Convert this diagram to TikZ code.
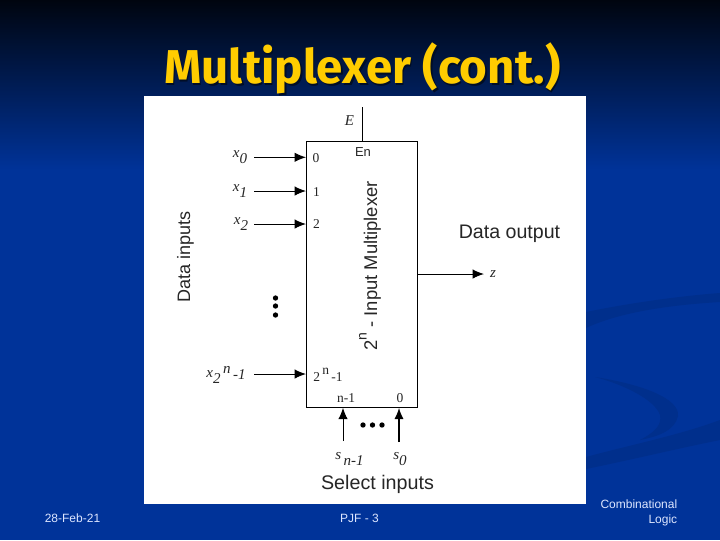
\documentclass[tikz,border=0pt]{standalone}
\usepackage{fontspec}
\setmainfont{Liberation Sans}
\newfontfamily\serifface{Liberation Serif}
\newfontfamily\titleface{Fira Sans}
\usetikzlibrary{arrows.meta}
\definecolor{deckblue}{HTML}{003399}
\definecolor{swoosh}{HTML}{002F8C}
\definecolor{ink}{HTML}{262626}
\definecolor{gold}{HTML}{FFCC00}
\definecolor{foot}{HTML}{DDE6FF}
\newcommand{\pxs}[1]{\fontsize{\dimexpr #1pt*3/4\relax}{\dimexpr #1pt\relax}\selectfont}
\newcommand{\ital}[1]{{\serifface\itshape #1}}
\newcommand{\low}[2][4pt]{\raisebox{-#1}{\ital{#2}}}
\tikzset{
  x=0.75pt,y=-0.75pt,
  muxbox/.style={draw=black,line width=0.75pt,fill=white,minimum width=83.25pt,minimum height=199.5pt,inner sep=0pt},
  sans/.style={inner sep=0pt,text=ink},
  pin/.style={inner sep=0pt,text=ink,font={\serifface\pxs{13.5}}},
  var/.style={inner sep=0pt,text=ink,font={\serifface\itshape\pxs{15}}},
  signal/.style={draw=black,line width=0.75pt,-{Latex[length=8.5pt,width=7pt]}},
  thicksignal/.style={draw=black,line width=1.3pt,-{Latex[length=8.5pt,width=7pt]}},
  wire/.style={draw=black,line width=0.75pt},
  dotmark/.style={circle,fill=black,inner sep=0pt,minimum size=4pt},
  footer/.style={inner sep=0pt,text=foot,font=\pxs{12}}
}
\begin{document}
\begin{tikzpicture}
\useasboundingbox (0,0) rectangle (720,540);
% background
\fill[deckblue] (0,0) rectangle (720,540);
\shade[top color=black!90!deckblue,bottom color=deckblue] (0,0) rectangle (720,170);
% swooshes
\fill[swoosh] (586,312) .. controls (630,303) and (680,296) .. (720,293) -- (720,302) .. controls (670,305) and (620,312) .. (586,328) -- cycle;
\fill[swoosh] (595,377) .. controls (640,384) and (680,398) .. (678,416) .. controls (675,430) and (660,436) .. (640,440) .. controls (655,432) and (662,425) .. (660,415) .. controls (655,400) and (625,385) .. (595,377) -- cycle;
\fill[swoosh] (586,457) .. controls (630,445) and (680,435) .. (720,420) -- (720,440) .. controls (680,448) and (630,460) .. (586,469) -- cycle;
% panel
\fill[white] (144,96) rectangle (586,504);
% title
\node[inner sep=0pt,text=black!75!deckblue] (titleshadow) at (364,70) {\resizebox{297pt}{!}{\titleface\bfseries Multiplexer (cont.)}};
\node[inner sep=0pt,text=gold] (title) at (362.5,68.5) {\resizebox{297pt}{!}{\titleface\bfseries Multiplexer (cont.)}};
% multiplexer
\node[muxbox] (mux) at (362,274.25) {};
\node[sans,font=\pxs{13}] (en) at (363,152.5) {En};
\node[sans,rotate=90,font=\pxs{18.4}] (muxname) at (370,266) {2\raisebox{8pt}{\pxs{14}n} - Input Multiplexer};
% pin labels
\node[pin] (p0) at (316,158.5) {0};
\node[pin] (p1) at (316.5,192.5) {1};
\node[pin] (p2) at (316.5,224) {2};
\node[pin,anchor=west] (pn) at (313,375) {2\raisebox{5pt}{\,n}\,-1};
\node[pin] (psn) at (346,398) {n-1};
\node[pin] (ps0) at (400,398) {0};
% variables
\node[var] (x0) at (240,157) {x\low{0}};
\node[var] (x1) at (240,191) {x\low{1}};
\node[var] (x2) at (241,224) {x\low{2}};
\node[var] (xn) at (226,375) {x\low{2}\raisebox{3pt}{\ital{\,n}}\low[1pt]{\,-1}};
\node[var] (sn) at (349.5,459) {s\low{\,n-1}};
\node[var] (s0) at (400,459) {s\low{0}};
\node[var] (e) at (349.5,120.5) {E};
\node[var] (z) at (493,274.5) {z};
% texts
\node[sans,rotate=90,font=\pxs{18}] (datain) at (185.5,256.5) {Data inputs};
\node[sans,font=\pxs{19.6}] (dataout) at (509.5,233.5) {Data output};
\node[sans,font=\pxs{19.7}] (selin) at (377.5,484.5) {Select inputs};
% connector ends
\coordinate (cx0) at (254,157.3);
\coordinate (cx1) at (254,191);
\coordinate (cx2) at (254,224);
\coordinate (cxn) at (254,374);
\coordinate (csn) at (343,441);
\coordinate (cs0) at (399,442);
\coordinate (ce) at (362.3,107);
\coordinate (cz) at (484,274);
\draw[signal] (cx0) -- (cx0 -| mux.west);
\draw[signal] (cx1) -- (cx1 -| mux.west);
\draw[signal] (cx2) -- (cx2 -| mux.west);
\draw[signal] (cxn) -- (cxn -| mux.west);
\draw[signal] (csn) -- (csn |- mux.south);
\draw[thicksignal] (cs0) -- (cs0 |- mux.south);
\draw[wire] (ce) -- (ce |- mux.north);
\draw[signal] (cz -| mux.east) -- (cz);
% ellipsis dots
\node[dotmark] (v1) at (275.5,298) {};
\node[dotmark] (v2) at (275.5,306) {};
\node[dotmark] (v3) at (275.5,315) {};
\node[dotmark] (h1) at (363,425) {};
\node[dotmark] (h2) at (372.5,425) {};
\node[dotmark] (h3) at (382,425) {};
% footer
\node[footer] (date) at (72.5,518.5) {28-Feb-21};
\node[footer] (page) at (359.5,518.5) {PJF - 3};
\node[footer,align=right,anchor=east] (topic) at (677.5,513) {Combinational\\[-1pt]Logic};
\end{tikzpicture}
\end{document}
